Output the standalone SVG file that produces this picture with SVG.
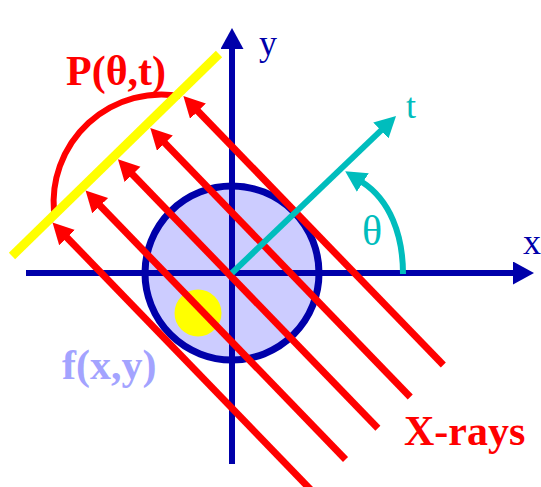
<svg xmlns="http://www.w3.org/2000/svg" width="541" height="487" viewBox="0 0 541 487">
<style>
.serif{font-family:"Liberation Serif","Times New Roman",serif}
.bold{font-weight:bold}
.axis{stroke:#0000AA;stroke-width:6;fill:none}
.ray{stroke:#FF0000;stroke-width:7;fill:none}
.teal{stroke:#00BDBD;stroke-width:6;fill:none}
</style>
<defs>
<marker id="ahBlue" markerUnits="userSpaceOnUse" markerWidth="22" markerHeight="24" refX="1" refY="11.5" orient="auto"><path d="M0,0 L21,11.5 L0,23 z" fill="#0000AA"/></marker>
<marker id="ahRed" markerUnits="userSpaceOnUse" markerWidth="22" markerHeight="24" refX="1" refY="11" orient="auto"><path d="M0,0 L21,11 L0,22 z" fill="#FF0000"/></marker>
<marker id="ahTeal" markerUnits="userSpaceOnUse" markerWidth="22" markerHeight="24" refX="1" refY="11" orient="auto"><path d="M0,0 L21,11 L0,22 z" fill="#00BDBD"/></marker>
</defs>
<rect width="541" height="487" fill="#FFFFFF"/>
<g id="object">
<circle cx="232" cy="273" r="87" fill="#CCCCFF" stroke="#0000AA" stroke-width="7"/>
<circle cx="198" cy="313" r="23.5" fill="#FFFF00"/>
</g>
<g id="axes">
<line class="axis" x1="26" y1="273" x2="514" y2="273" marker-end="url(#ahBlue)"/>
<line class="axis" x1="232" y1="464" x2="232" y2="48" marker-end="url(#ahBlue)"/>
</g>
<g id="projection">
<path d="M54,212 A108,108 0 0 1 180,96" stroke="#FF0000" stroke-width="6" fill="none"/>
</g>
<g id="detector">
<line x1="12" y1="256" x2="219" y2="54" stroke="#FFFF00" stroke-width="9"/>
</g>
<g id="rays">
<line class="ray" x1="312.45" y1="491.48" x2="66.41" y2="236.95" marker-end="url(#ahRed)"/>
<line class="ray" x1="345.53" y1="459.51" x2="99.49" y2="204.98" marker-end="url(#ahRed)"/>
<line class="ray" x1="377.88" y1="428.24" x2="131.84" y2="173.71" marker-end="url(#ahRed)"/>
<line class="ray" x1="410.24" y1="396.96" x2="164.2" y2="142.43" marker-end="url(#ahRed)"/>
<line class="ray" x1="443.31" y1="364.99" x2="197.27" y2="110.46" marker-end="url(#ahRed)"/>
</g>
<g id="t-axis">
<line class="teal" x1="232" y1="273" x2="381.6" y2="129.8" marker-end="url(#ahTeal)"/>
<path class="teal" d="M403,274 C403,235 390,200 362,182" marker-end="url(#ahTeal)"/>
</g>
<g id="labels">
<text class="serif" x="259" y="55" font-size="36" fill="#0000AA">y</text>
<text class="serif" x="523" y="254" font-size="36" fill="#0000AA">x</text>
<text class="serif" x="406" y="118" font-size="36" fill="#00BDBD">t</text>
<text class="serif" x="362" y="245" font-size="42" fill="#00BDBD">θ</text>
<text class="serif bold" x="66" y="85" font-size="42" fill="#FF0000">P(θ,t)</text>
<text class="serif bold" x="62" y="379" font-size="42" fill="#A3A3FF">f(x,y)</text>
<text class="serif bold" x="404" y="445" font-size="42" fill="#FF0000">X-rays</text>
</g>
</svg>
